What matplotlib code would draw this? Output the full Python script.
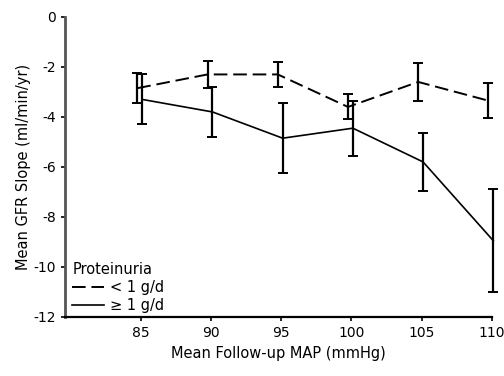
import matplotlib.pyplot as plt

plt.rcParams['font.family'] = 'DejaVu Sans'
plt.rcParams['axes.unicode_minus'] = False

map_x = [85, 90, 95, 100, 105, 110]

# proteinuria < 1 g/d
low_mean = [-2.85, -2.3, -2.3, -3.6, -2.6, -3.35]
low_err = [0.6, 0.55, 0.5, 0.5, 0.75, 0.7]

# proteinuria >= 1 g/d
high_mean = [-3.3, -3.8, -4.85, -4.45, -5.8, -8.95]
high_err = [1.0, 1.0, 1.4, 1.1, 1.15, 2.05]

fig = plt.figure(figsize=(5.04, 3.76), dpi=100)
ax = fig.add_axes([0.129, 0.157, 0.847, 0.798])

eb1 = ax.errorbar([x - 0.25 for x in map_x], low_mean, yerr=low_err, color='black',
                  linestyle=(0, (7, 3)), linewidth=1.4, elinewidth=1.6, capsize=3.5,
                  capthick=1.4, label='< 1 g/d')
eb2 = ax.errorbar([x + 0.1 for x in map_x], high_mean, yerr=high_err, color='black',
                  linestyle='-', linewidth=1.2, elinewidth=1.6, capsize=3.5,
                  capthick=1.4, label='\u2265 1 g/d')
for eb in (eb1, eb2):
    for art in eb.get_children():
        art.set_clip_on(False)

ax.set_xlim(79.6, 110)
ax.set_ylim(-12, 0)
ax.set_xticks(map_x)
ax.set_yticks(range(-12, 1, 2))
ax.tick_params(labelsize=10, length=3, width=1.2)
ax.spines['top'].set_visible(False)
ax.spines['right'].set_visible(False)
ax.spines['left'].set_color('#555555')
ax.spines['left'].set_linewidth(2)
ax.spines['bottom'].set_linewidth(1.6)

ax.set_xlabel('Mean Follow-up MAP (mmHg)', fontsize=10.5, labelpad=4)
ax.set_ylabel('Mean GFR Slope (ml/min/yr)', fontsize=10.5, labelpad=2)

handles, labels = ax.get_legend_handles_labels()
handles = [h[0] for h in handles]
leg = ax.legend(handles, labels, title='Proteinuria', loc='lower left',
                frameon=False, fontsize=10.5, title_fontsize=10.5,
                handlelength=2.2, handletextpad=0.4, borderaxespad=0.1,
                labelspacing=0.2, bbox_to_anchor=(0.0, -0.01))
leg._legend_box.align = 'left'

fig.savefig('out.png', dpi=100)
